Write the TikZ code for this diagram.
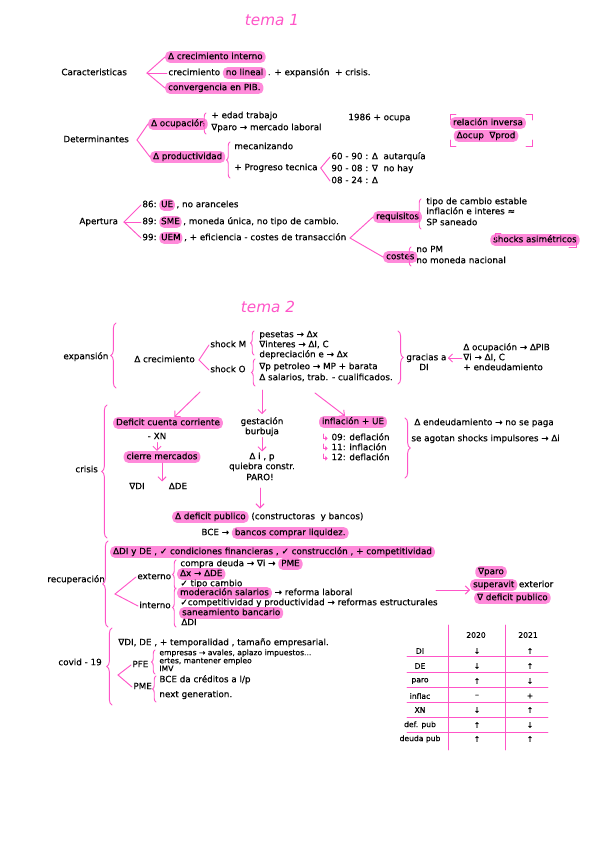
\documentclass[tikz,border=0pt]{standalone}
\usepackage{fontspec}
\setmainfont{DejaVu Sans}[FakeBold=0.35]
\newfontfamily\titlefont{DejaVu Sans}
\usetikzlibrary{positioning, arrows.meta, decorations.pathreplacing, calc}
\definecolor{hlpink}{RGB}{255,138,218}
\definecolor{lnpink}{RGB}{255,85,200}

\begin{document}
\begin{tikzpicture}[
    x=0.03cm, y=-0.03cm,
    font=\fontsize{7.5}{8}\selectfont,
    node distance=0pt and 1pt,
    txt/.style={anchor=west, inner sep=1pt, text height=5.4pt, text depth=1.6pt},
    hl/.style={txt, fill=hlpink, rounded corners=4pt, inner xsep=2.5pt, inner ysep=1.5pt},
    small/.style={font=\fontsize{6.5}{7}\selectfont},
    ttl/.style={text=lnpink, font=\titlefont\fontsize{13}{13}\selectfont\itshape},
    pk/.style={draw=lnpink, line width=0.8pt, line cap=round},
    arr/.style={pk, -{Straight Barb[length=3.5pt, width=7pt]}},
    brc/.style={pk, decorate, decoration={brace, amplitude=3pt}},
    bigbrc/.style={pk, decorate, decoration={brace, amplitude=4.5pt}},
    cell/.style={inner sep=1pt, font=\fontsize{6.5}{7}\selectfont},
  ]
  \fill[white] (0,0) rectangle (599,848);
  \useasboundingbox (0,0) rectangle (599,848);

  % tema 1
  \node[ttl] (tema1) at (272,20) {tema 1};

  % caracteristicas
  \node[txt] (carac) at (60,73) {Caracteristicas};
  \coordinate (caracfk) at (147,73);
  \node[hl] (crein) at (165,57) {∆ crecimiento interno};
  \node[txt] (lin) at (167,73) {crecimiento};
  \node[hl, right=1pt of lin] (nolin) {no lineal};
  \node[txt, right=0pt of nolin] (linmas) {. + expansión \ + crisis.};
  \node[hl] (conv) at (165,88) {convergencia en PIB.};
  \draw[pk] (caracfk) -- (crein.west);
  \draw[pk] (caracfk) -- (lin.west);
  \draw[pk] (caracfk) -- (conv.west);

  % determinantes
  \node[txt] (deter) at (62,140) {Determinantes};
  \coordinate (deterfk) at (137,140);
  \node[hl] (ocup) at (148,124) {∆ ocupación};
  \node[hl] (prod) at (150,157) {∆ productividad};
  \draw[pk] (deterfk) -- (ocup.west);
  \draw[pk] (deterfk) -- (prod.west);
  \draw[brc] (206,134) -- (206,113);
  \node[txt] (edad) at (210,116) {+ edad trabajo};
  \node[txt] (paro) at (210,128) {∇paro → mercado laboral};
  \node[txt] (ocupa) at (347,118) {1986 + ocupa};
  \draw[brc] (230,178) -- (230,142);
  \node[txt] (mecan) at (233,147) {mecanizando};
  \node[txt] (progr) at (233,168) {+ Progreso tecnica};
  \coordinate (progrfk) at ([xshift=1.5pt]progr.east);
  \node[txt] (per1) at (330,157) {60 - 90 : ∆ \ autarquía};
  \node[txt] (per2) at (330,169) {90 - 08 : ∇ \ no hay};
  \node[txt] (per3) at (330,181) {08 - 24 : ∆};
  \draw[pk] (progrfk) -- (per1.west);
  \draw[pk] (progrfk) -- (per3.west);

  \node[hl, anchor=center] (relinv) at (488,123) {relación inversa};
  \node[hl, anchor=center] (ocprod) at (486,136) {∆ocup \ ∇prod};
  \draw[pk] (450,120) -- (450,114) -- (456,114);
  \draw[pk] (526,114) -- (532,114) -- (532,120);
  \draw[pk] (450,140) -- (450,146) -- (456,146);
  \draw[pk] (526,146) -- (532,146) -- (532,140);

  % apertura
  \node[txt] (aper) at (78,222) {Apertura};
  \coordinate (aperfk) at (124,222);
  \node[txt] (y86) at (141,205) {86:};
  \node[hl, right=1pt of y86, inner xsep=1.5pt] (ue) {UE};
  \node[txt, right=0pt of ue] (y86b) {, no aranceles};
  \node[txt] (y89) at (141,222) {89:};
  \node[hl, right=1pt of y89, inner xsep=1.5pt] (sme) {SME};
  \node[txt, right=0pt of sme] (y89b) {, moneda única, no tipo de cambio.};
  \node[txt] (y99) at (141,238) {99:};
  \node[hl, right=1pt of y99, inner xsep=1.5pt] (uem) {UEM};
  \node[txt, right=0pt of uem] (y99b) {, + eficiencia - costes de transacción};
  \draw[pk] (aperfk) -- (y86.west);
  \draw[pk] (aperfk) -- (y89.west);
  \draw[pk] (aperfk) -- (y99.west);
  \coordinate (uemfk) at ([xshift=2pt]y99b.east);
  \node[hl] (requi) at (373,217) {requisitos};
  \node[hl] (costes) at (383,257) {costes};
  \draw[pk] (uemfk) -- (requi.west);
  \draw[pk] (uemfk) -- (costes.west);
  \draw[brc] (421,229) -- (421,199);
  \node[txt] (tcam) at (425,202) {tipo de cambio estable};
  \node[txt] (infl) at (425,212) {inflación e interes ≈};
  \node[txt] (sps) at (425,223) {SP saneado};
  \draw[brc] (411,266) -- (411,247);
  \node[txt] (nopm) at (415,250) {no PM};
  \node[txt] (nomon) at (415,261) {no moneda nacional};
  \node[hl, anchor=center] (shock) at (535,240) {shocks asimétricos};
  \draw[pk] (495,240) -- (495,233) -- (501,233);
  \draw[pk] (569,247) -- (576,247) -- (576,240);

  % tema 2
  \node[ttl] (tema2) at (268,307) {tema 2};

  % expansion
  \node[txt] (expan) at (62,357) {expansión};
  \draw[bigbrc] (116,388) -- (116,323);
  \node[txt] (crec) at (133,360) {∆ crecimiento};
  \coordinate (crecfk) at (199,360);
  \node[txt] (shm) at (209,345) {shock M};
  \node[txt] (sho) at (209,370) {shock O};
  \draw[pk] (crecfk) -- (shm.west);
  \draw[pk] (crecfk) -- (sho.west);
  \draw[brc] (254,355) -- (254,331);
  \node[txt] (m1) at (258,335) {pesetas → ∆x};
  \node[txt] (m2) at (258,345) {∇interes → ∆I, C};
  \node[txt] (m3) at (258,355) {depreciación e → ∆x};
  \draw[brc] (255,386) -- (255,359);
  \node[txt] (o1) at (258,367) {∇p petroleo → MP + barata};
  \node[txt] (o2) at (258,378) {∆ salarios, trab. - cualificados.};
  \draw[bigbrc] (398,331) -- (398,384);
  \node[txt] (grac) at (405,358) {gracias a};
  \node[txt, anchor=center] (gdi) at (424,368) {DI};
  \node[txt] (g1) at (462,348) {∆ ocupación → ∆PIB};
  \node[txt] (g2) at (462,358) {∇i → ∆I, C};
  \node[txt] (g3) at (462,368) {+ endeudamiento};
  \draw[arr] (g2.west) -- (grac.east);

  % crisis
  \node[txt] (crisis) at (74,470) {crisis};
  \draw[bigbrc] (107,538) -- (107,405);
  \coordinate (exa) at (200,392);
  \coordinate (exb) at (262,390);
  \coordinate (exc) at (315,393);
  \node[hl, anchor=center] (dcc) at (168,423) {Deficit cuenta corriente};
  \draw[arr] (exa) -- (dcc);
  \node[txt, anchor=center] (xn) at (157,437) {- XN};
  \node[hl, anchor=center] (cierre) at (162,457) {cierre mercados};
  \draw[arr] (xn.south) -- (xn.south |- cierre.north);
  \node[txt, anchor=center] (ddi) at (137,487) {∇DI};
  \node[txt, anchor=center] (dde) at (178,487) {∆DE};
  \draw[arr] (cierre.south) -- (cierre.south |- ddi.north);

  \node[txt, anchor=center] (gest) at (262,422) {gestación};
  \node[txt, anchor=center] (burb) at (262,432) {burbuja};
  \draw[arr, shorten >=2pt] (exb) -- (gest.north);
  \node[txt, anchor=center] (dip) at (262,457) {∆ i , p};
  \draw[arr] (burb.south) -- (dip.north);
  \node[txt, anchor=center] (quie) at (262,467) {quiebra constr.};
  \node[txt, anchor=center] (paro2) at (260,478) {PARO!};
  \node[hl] (dpub) at (172,517) {∆ deficit publico};
  \node[txt, right=1pt of dpub] (cyb) {(constructoras \ y bancos)};
  \draw[arr, shorten <=4pt, shorten >=2pt] (paro2.south) -- (paro2.south |- dpub.north);
  \node[txt] (bce) at (200,533) {BCE →};
  \node[hl, right=1pt of bce] (liq) {bancos comprar liquidez.};

  \node[hl, anchor=center] (inf) at (353,422) {inflación + UE};
  \draw[arr] (exc) -- (inf);
  \node[txt] (i09) at (320,438) {\textcolor{lnpink}{↳} 09: deflación};
  \node[txt] (i11) at (320,448) {\textcolor{lnpink}{↳} 11: inflación};
  \node[txt] (i12) at (320,458) {\textcolor{lnpink}{↳} 12: deflación};
  \draw[bigbrc] (405,418) -- (405,478);
  \node[txt] (end1) at (413,423) {∆ endeudamiento → no se paga};
  \node[txt] (end2) at (410,439) {se agotan shocks impulsores → ∆i};

  % recuperacion
  \node[txt] (recu) at (46,580) {recuperación};
  \draw[bigbrc] (108,627) -- (108,541);
  \node[hl] (rtop) at (110,552) {∆DI y DE , ✓ condiciones financieras , ✓ construcción , + competitividad};
  \coordinate (recufk) at (115,594);
  \node[txt] (exter) at (136,577) {externo};
  \node[txt] (inter) at (138,606) {interno};
  \draw[pk] (recufk) -- (exter.west);
  \draw[pk] (recufk) -- (inter.west);
  \draw[brc] (176,589) -- (176,560);
  \node[txt] (compra) at (179,564) {compra deuda → ∇i →};
  \node[hl, right=1pt of compra] (pme1) {PME};
  \node[hl] (dxde) at (177,574) {∆x → ∆DE};
  \node[txt] (tipoc) at (179,584) {✓ tipo cambio};
  \draw[brc] (176,627) -- (176,588);
  \node[hl] (moder) at (177,593) {moderación salarios};
  \node[txt, right=1pt of moder] (refor) {→ reforma laboral};
  \node[txt] (compe) at (179,603) {✓competitividad y productividad → reformas estructurales};
  \node[hl] (sanea) at (179,613) {saneamiento bancario};
  \node[txt] (rdi) at (180,623) {∆DI};
  \coordinate (recarr) at (436,590);
  \node[hl, anchor=center] (rparo) at (491,572) {∇paro};
  \node[hl] (super) at (470,585) {superavit};
  \node[txt, right=0pt of super] (exte) {exterior};
  \node[hl] (rdef) at (474,598) {∇ deficit publico};
  \draw[arr] (recarr) -- (recarr -| super.west);

  % covid
  \node[txt] (covid) at (57,663) {covid - 19};
  \draw[bigbrc] (112,705) -- (112,628);
  \node[txt] (cv1) at (117,643) {∇DI, DE , + temporalidad , tamaño empresarial.};
  \coordinate (covfk) at (118,675);
  \node[txt] (pfe) at (131,665) {PFE};
  \node[txt] (pme2) at (132,687) {PME};
  \draw[pk] (covfk) -- (pfe.west);
  \draw[pk] (covfk) -- (pme2.west);
  \draw[brc] (155,674) -- (155,650);
  \node[txt, small] (f1) at (158,653) {empresas → avales, aplazo impuestos...};
  \node[txt, small] (f2) at (158,661) {ertes, mantener empleo};
  \node[txt, small] (f3) at (158,669) {IMV};
  \draw[brc] (156,702) -- (156,676);
  \node[txt] (h1) at (158,680) {BCE da créditos a l/p};
  \node[txt] (h2) at (158,695) {next generation.};

  % tabla
  \foreach \yy in {656,672,687,702,717,732}
    \draw[pk] (407,\yy) -- (548,\yy);
  \foreach \xx in {448,505}
    \draw[pk] (\xx,625) -- (\xx,750);
  \node[cell] (y2020) at (476,635) {2020};
  \node[cell] (y2021) at (528,635) {2021};
  \foreach \lab/\va/\vb/\yy [count=\i] in {DI/↓/↑/651, DE/↓/↑/666, paro/↑/↓/681, inflac/–/+/696, XN/↓/↑/710, def. pub/↑/↓/725, deuda pub/↑/↑/739} {
    \node[cell] (row\i) at (420,\yy) {\lab};
    \node[cell] (va\i) at (477,\yy) {\va};
    \node[cell] (vb\i) at (530,\yy) {\vb};
  }
\end{tikzpicture}
\end{document}
